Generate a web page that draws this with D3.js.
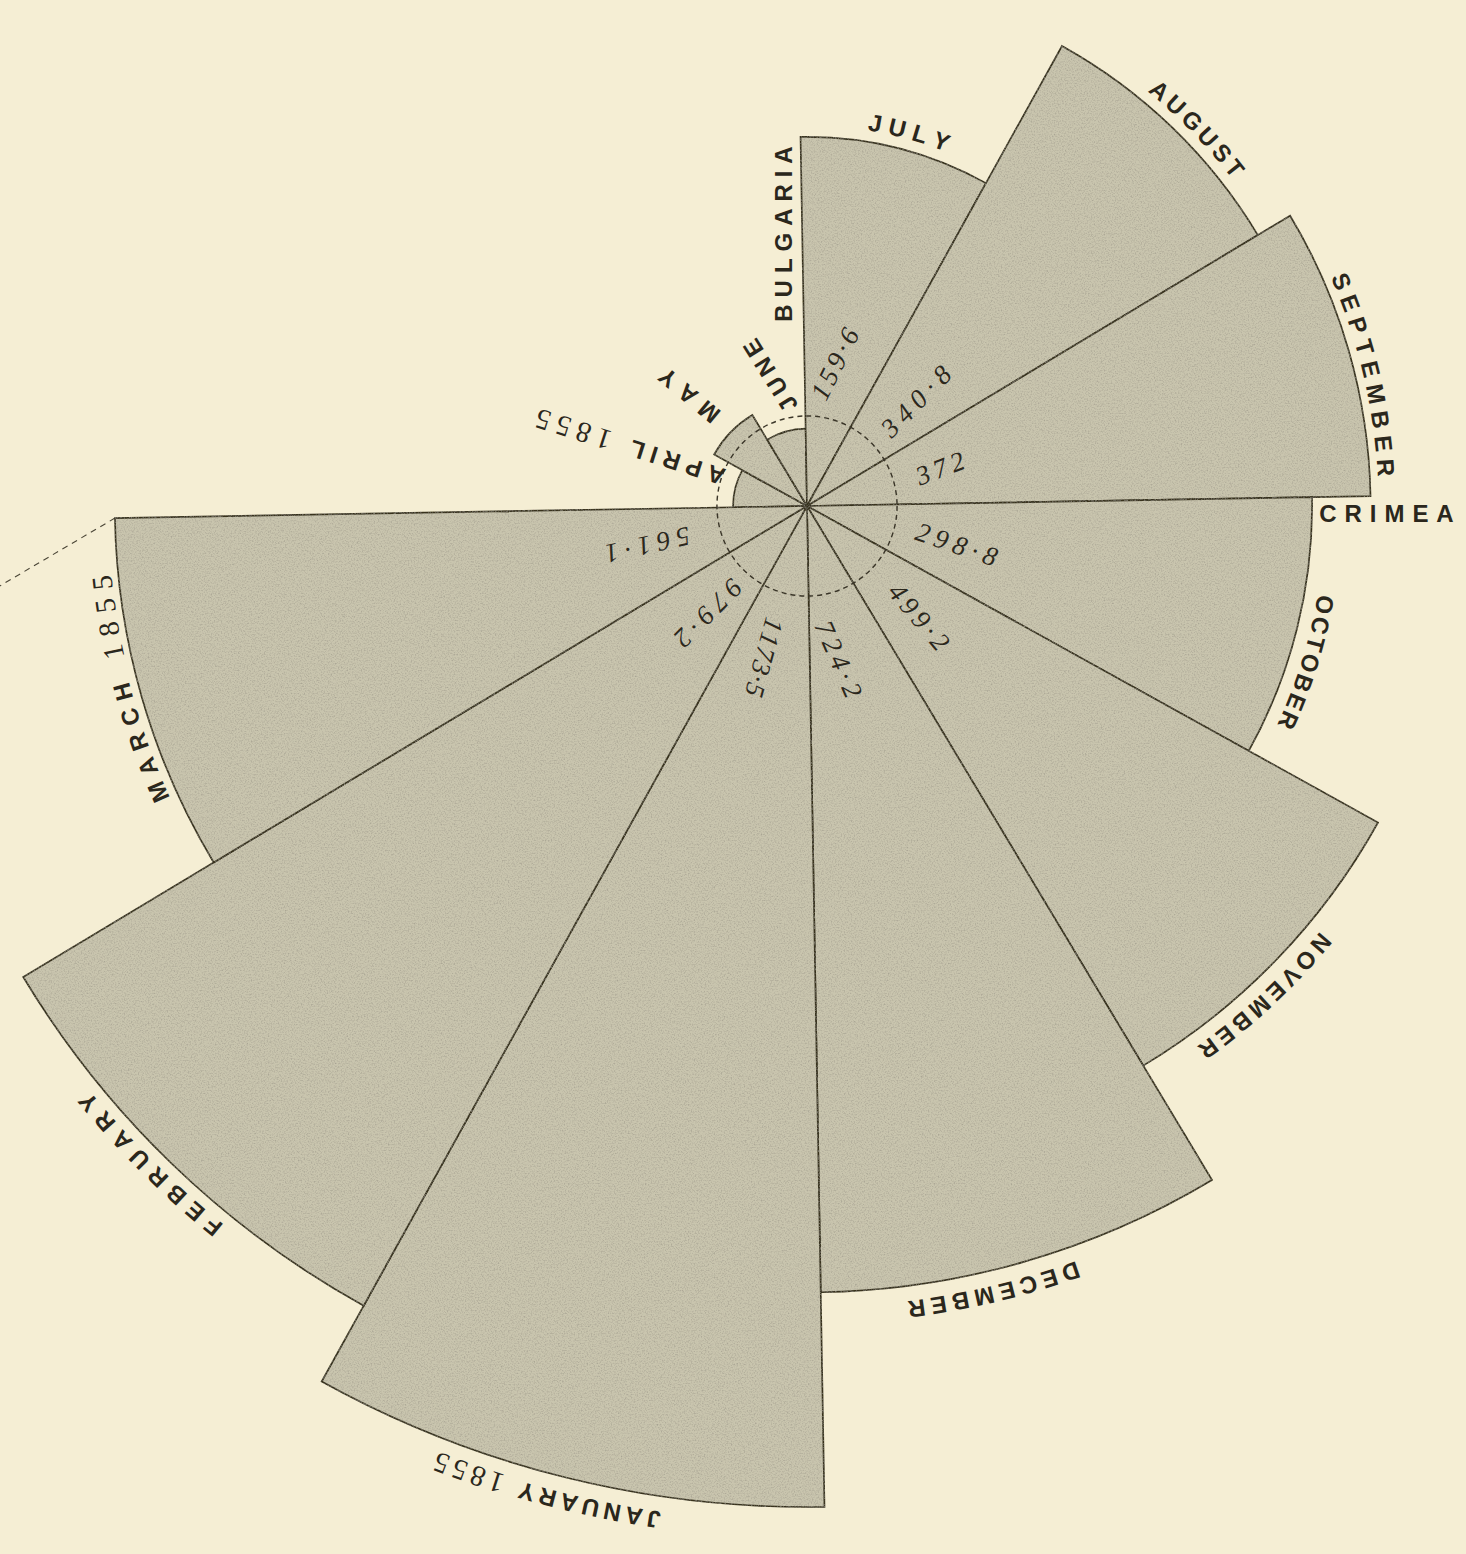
<!DOCTYPE html>
<html><head><meta charset="utf-8">
<script src="https://cdn.jsdelivr.net/npm/d3@7"></script>
<style>html,body{margin:0;padding:0;background:#f4edd3;} svg{display:block}</style>
</head><body>
<svg id="chart" width="1466" height="1554"></svg>
<script>
// ---------- DATA ----------
const months = ["APRIL 1855","MAY","JUNE","JULY","AUGUST","SEPTEMBER","OCTOBER","NOVEMBER","DECEMBER","JANUARY 1855","FEBRUARY","MARCH 1855"];
// wedge magnitudes (area ∝ value) as drawn
const values = [6.4, 13.2, 7.0, 159.6, 324, 372, 298.8, 499.2, 724.2, 1173.5, 979.2, 561.1];
// printed rates
const rateLabels = ["", "", "", "159·6", "340·8", "372", "298·8", "499·2", "724·2", "1173·5", "979·2", "561·1"];
const regionLabels = ["BULGARIA", "CRIMEA"];
const referenceValue = 9.5;

// ---------- LAYOUT ----------
const W = 1466, H = 1554, cx = 807, cy = 506;
const monthLayout = [
  {type:"line", p0:[716,475], p1:[543,420]},
  {type:"line", p0:[709,412], p1:[668,378]},
  {type:"line", p0:[788,404], p1:[753,348]},
  {type:"arc", a0:10.1, a1:20.2, rc:389},
  {type:"arc", a0:40.3, a1:51.7, rc:545},
  {type:"arc", a0:67.2, a1:86.2, rc:580},
  {type:"arc", a0:100.8, a1:114, rc:527},
  {type:"arc", a0:130.4, a1:143.5, rc:675},
  {type:"arc", a0:161, a1:172.2, rc:810},
  {type:"arc", a0:188.6, a1:200.9, rc:1025},
  {type:"arc", a0:219.5, a1:230.3, rc:934},
  {type:"arc", a0:246.2, a1:263.8, rc:709}
];
const rateLayout = [null,null,null,
  {p0:[821,392], p1:[849,336]},
  {p0:[890,428], p1:[942,375]},
  {p0:[923,475], p1:[957,462]},
  {p0:[923,533], p1:[990,556]},
  {p0:[898,592], p1:[940,642]},
  {p0:[825,628], p1:[852,690]},
  {p0:[773,625], p1:[755,690]},
  {p0:[733,588], p1:[683,638]},
  {p0:[683,537], p1:[612,553]}
];
const regionLayout = [
  {p0:[783,313], p1:[783,155]},
  {p0:[1328,513], p1:[1445,513]}
];

const INK = "#2b271c";
const sans = {family:"Liberation Sans", size:24, weight:"bold", style:"normal"};
const serifDigits = {family:"Liberation Serif", size:29, weight:"normal", style:"normal"};
const numFont = {family:"Liberation Serif", size:27, weight:"normal", style:"italic"};

const svg = d3.select("#chart");
svg.append("rect").attr("width", W).attr("height", H).attr("fill", "#f5eed4");

const defs = svg.append("defs");
const f = defs.append("filter").attr("id","grain");
f.append("feTurbulence").attr("type","fractalNoise").attr("baseFrequency","0.7").attr("numOctaves",2).attr("seed",7).attr("result","n");
f.append("feColorMatrix").attr("in","n").attr("type","matrix")
 .attr("values","0 0 0 0 0.33  0 0 0 0 0.31  0 0 0 0 0.25  1.6 0 0 0 -0.7").attr("result","spk");
f.append("feComposite").attr("in","spk").attr("in2","SourceAlpha").attr("operator","in").attr("result","spk2");
const fm = f.append("feMerge");
fm.append("feMergeNode").attr("in","SourceGraphic");
fm.append("feMergeNode").attr("in","spk2");

const rad = d => d * Math.PI / 180;
const angle = d3.scaleLinear().domain([0, months.length]).range([269, 629]); // degrees clockwise from north
const r = d3.scaleSqrt().domain([0, 1173.5]).range([0, 1001]);

const g = svg.append("g").attr("transform", `translate(${cx},${cy})`);
const arcGen = d3.arc().innerRadius(0);

// dashed extension line from March outer corner
const mi = months.length - 1;
const ma = rad(angle(mi + 1)), mr = r(values[mi]);
const mx = mr * Math.sin(ma), my = -mr * Math.cos(ma);
g.append("line").attr("x1", mx).attr("y1", my)
 .attr("x2", mx - 0.862 * 260).attr("y2", my + 0.508 * 260)
 .attr("stroke", "#4a4536").attr("stroke-width", 1.1).attr("stroke-dasharray", "6,5");

const wedges = g.append("g").attr("filter", "url(#grain)");
wedges.selectAll("path").data(values).join("path")
  .attr("d", (v, i) => arcGen({outerRadius: r(v), startAngle: rad(angle(i)), endAngle: rad(angle(i + 1))}))
  .attr("fill", "#c9c5ae").attr("stroke", "#37321f").attr("stroke-width", 1.7);

g.append("circle").attr("r", r(referenceValue)).attr("fill", "none")
  .attr("stroke", "#3a3528").attr("stroke-width", 1.4).attr("stroke-dasharray", "5,4");

// ---------- TEXT HELPERS ----------
const measurer = svg.append("text").attr("x", -2000).attr("y", -2000).style("white-space", "pre");
function charWidth(ch, ft) {
  measurer.attr("font-family", ft.family).attr("font-size", ft.size)
    .attr("font-weight", ft.weight).attr("font-style", ft.style).text(ch);
  return measurer.node().getComputedTextLength();
}
function layoutChars(text, fontFor) {
  const chars = [...text].map(ch => ({ch, f: fontFor(ch)}));
  chars.forEach(c => c.w = c.ch === " " ? c.f.size * 0.3 : charWidth(c.ch, c.f));
  let acc = 0;
  chars.forEach(c => { c.c = acc + c.w / 2; acc += c.w; });
  return chars;
}
const labels = svg.append("g");
function drawChar(c, x, y, rot) {
  labels.append("text")
    .attr("transform", `translate(${x.toFixed(2)},${y.toFixed(2)}) rotate(${rot.toFixed(2)})`)
    .attr("text-anchor", "middle").attr("dominant-baseline", "central")
    .attr("font-family", c.f.family).attr("font-size", c.f.size)
    .attr("font-weight", c.f.weight).attr("font-style", c.f.style)
    .attr("fill", INK).text(c.ch);
}
function arcLabel(text, a0, a1, rc, fontFor) {
  const chars = layoutChars(text, fontFor), n = chars.length;
  const L = rad(a1 - a0) * rc, nat = chars[n - 1].c - chars[0].c;
  const s = n > 1 ? (L - nat) / (n - 1) : 0;
  chars.forEach((c, i) => {
    if (c.ch === " ") return;
    const p = c.c - chars[0].c + i * s;
    const a = a0 + (p / rc) * 180 / Math.PI;
    drawChar(c, cx + rc * Math.sin(rad(a)), cy - rc * Math.cos(rad(a)), a);
  });
}
function lineLabel(text, p0, p1, fontFor) {
  const chars = layoutChars(text, fontFor), n = chars.length;
  const dx = p1[0] - p0[0], dy = p1[1] - p0[1], L = Math.hypot(dx, dy);
  const ux = dx / L, uy = dy / L, rot = Math.atan2(dy, dx) * 180 / Math.PI;
  const nat = chars[n - 1].c - chars[0].c, s = n > 1 ? (L - nat) / (n - 1) : 0;
  chars.forEach((c, i) => {
    if (c.ch === " ") return;
    const p = c.c - chars[0].c + i * s;
    drawChar(c, p0[0] + ux * p, p0[1] + uy * p, rot);
  });
}
const monthFont = ch => /\d/.test(ch) ? serifDigits : sans;

months.forEach((m, i) => {
  const L = monthLayout[i];
  if (L.type === "arc") arcLabel(m, L.a0, L.a1, L.rc, monthFont);
  else lineLabel(m, L.p0, L.p1, monthFont);
});
rateLabels.forEach((t, i) => {
  if (!t) return;
  const L = rateLayout[i];
  lineLabel(t, L.p0, L.p1, () => numFont);
});
regionLabels.forEach((t, i) => {
  const L = regionLayout[i];
  lineLabel(t, L.p0, L.p1, () => sans);
});
measurer.remove();
</script>
</body></html>
